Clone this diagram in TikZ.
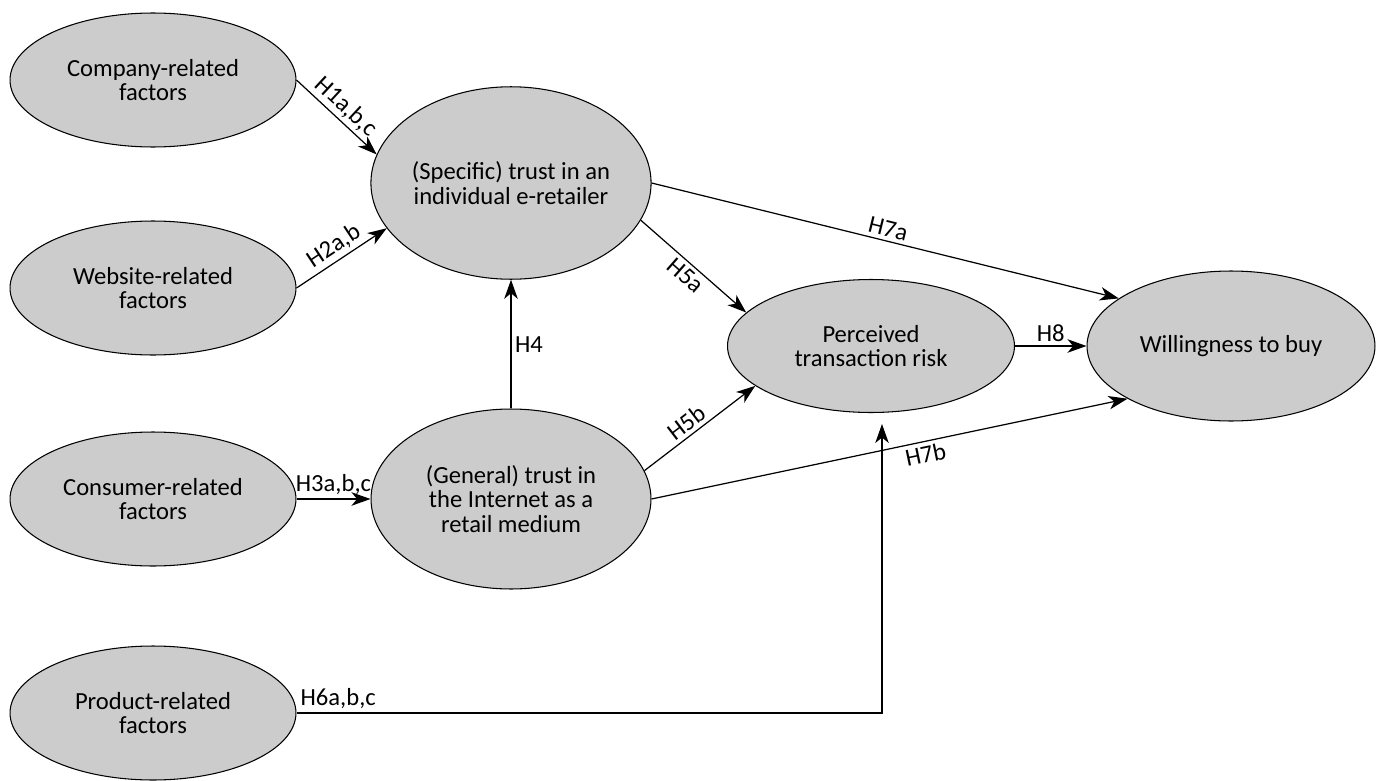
\documentclass[tikz,border=0pt]{standalone}
\usepackage{fontspec}
\setmainfont{Carlito}
\usetikzlibrary{positioning}
\usetikzlibrary{shapes.geometric}
\usetikzlibrary{arrows.meta}

\begin{document}
\begin{tikzpicture}[x=0.02cm, y=-0.02cm,
	construct/.style={ellipse, draw, fill=black!20, line width=0.6pt, inner sep=0pt, align=center, font=\fontsize{14}{14}\selectfont},
	path/.style={-{Stealth[length=3.8mm, width=2.7mm, inset=1.1mm]}, line width=0.7pt},
	hyp/.style={font=\fontsize{14}{14}\selectfont, inner sep=2pt}]
	\useasboundingbox (0,0) rectangle (1377,781);
	\node [construct, minimum width=5.72cm, minimum height=2.68cm] at (153,80) (1comp) {Company-related\\factors};
	\node [construct, minimum width=5.72cm, minimum height=2.68cm] at (153,288) (1web) {Website-related\\factors};
	\node [construct, minimum width=5.72cm, minimum height=2.68cm] at (153,499) (1cons) {Consumer-related\\factors};
	\node [construct, minimum width=5.72cm, minimum height=2.68cm] at (153,713) (1prod) {Product-related\\factors};
	\node [construct, minimum width=5.6cm, minimum height=3.85cm] at (511,183) (2spec) {(Specific) trust in an\\individual e-retailer};
	\node [construct, minimum width=5.6cm, minimum height=3.6cm] at (511,499) (2gen) {(General) trust in\\the Internet as a\\retail medium};
	\node [construct, minimum width=5.74cm, minimum height=2.66cm] at (871,346) (3risk) {Perceived\\transaction risk};
	\node [construct, minimum width=5.76cm, minimum height=3cm] at (1231,346) (4buy) {Willingness to buy};

	\draw [path] (1comp.east) -- node [hyp, sloped, above] {H1a,b,c} (2spec.168);
	\draw [path] (1web.east) -- node [hyp, sloped, above] {H2a,b} (2spec.200);
	\draw [path] (1cons.east) -- node [hyp, above] {H3a,b,c} (2gen.west);
	\draw [path] (2gen.north) -- node [hyp, right] {H4} (2spec.south);
	\draw [path] (2spec.-16) -- node [hyp, sloped, below] {H5a} (3risk.165);
	\draw [path] (2gen.12) -- node [hyp, sloped, above, pos=0.45] {H5b} (3risk.199);
	\draw [path] (2spec.east) -- node [hyp, sloped, above] {H7a} (4buy.157);
	\draw [path] (2gen.east) -- node [hyp, sloped, below, pos=0.57] {H7b} (4buy.207);
	\draw [path] (3risk.east) -- node [hyp, above] {H8} (4buy.west);
	\coordinate (h6turn) at (882,713);
	\draw [path, shorten >=2.2mm] (1prod.east) -- node [hyp, above right, pos=0] {H6a,b,c} (h6turn) -- (h6turn |- 3risk.south);
\end{tikzpicture}
\end{document}
